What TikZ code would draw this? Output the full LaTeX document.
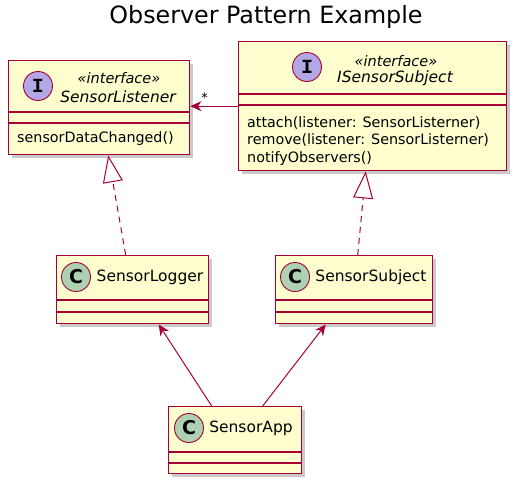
\documentclass[tikz,border=0pt]{standalone}
\usepackage{fontspec}
\setmainfont{DejaVu Sans}
\newfontfamily\spotmono{Liberation Mono}
\usetikzlibrary{arrows.meta,positioning,shadows,calc}
\definecolor{umlfill}{HTML}{FEFECE}
\definecolor{umlline}{HTML}{A80036}
\definecolor{ifacespot}{HTML}{B4A7E5}
\definecolor{classspot}{HTML}{ADD1B2}
\tikzset{
  classbox/.style={draw=umlline, fill=umlfill, line width=1.4pt, rectangle,
                   inner sep=0pt, anchor=north west,
                   drop shadow={shadow xshift=3.5pt, shadow yshift=-3.5pt, fill=black!35, opacity=0.6}},
  sep/.style={draw=umlline, line width=1.4pt},
  spot/.style={draw=umlline, circle, line width=0.9pt, minimum size=29pt, inner sep=0pt},
  tagtext/.style={font=\fontsize{14.5}{16}\selectfont\itshape, inner sep=0pt},
  nametext/.style={font=\fontsize{15.5}{18}\selectfont, inner sep=0pt},
  ifacename/.style={font=\fontsize{15.5}{18}\selectfont\itshape, inner sep=0pt},
  optext/.style={font=\fontsize{14.3}{17.5}\selectfont, inner sep=0pt, align=left},
  assoc/.style={draw=umlline, line width=1pt, -{Stealth[length=11pt, width=10pt, inset=3.5pt]}},
  realize/.style={draw=umlline, line width=1pt, dash pattern=on 6pt off 5pt,
                  -{Triangle[open, fill=white, length=27pt, width=20pt]}},
}
\newcommand{\spotI}{\spotmono\bfseries\fontsize{20}{20}\selectfont I}
\newcommand{\spotC}{\bfseries\fontsize{19}{19}\selectfont C}

\begin{document}
\begin{tikzpicture}[x=1pt, y=-1pt]
  \useasboundingbox (0,0) rectangle (519,487);
  \node[font=\fontsize{23.8}{28}\selectfont] (title) at (266,17) {Observer Pattern Example};

  \node[classbox, minimum width=181pt, minimum height=94pt] (lst) at (8,60) {};
  \draw[sep] ([yshift=-52pt]lst.north west) -- ([yshift=-52pt]lst.north east);
  \draw[sep] ([yshift=-63pt]lst.north west) -- ([yshift=-63pt]lst.north east);
  \node[spot, fill=ifacespot] (lstspot) at (38,86) {\spotI};
  \node[tagtext] (lsttag) at (119,78) {«interface»};
  \node[ifacename] (lstname) at (118,97) {SensorListener};
  \node[optext, anchor=west] (lstops) at (17,139) {sensorDataChanged()};

  \node[classbox, minimum width=268pt, minimum height=129pt] (iss) at (238,41) {};
  \draw[sep] ([yshift=-53pt]iss.north west) -- ([yshift=-53pt]iss.north east);
  \draw[sep] ([yshift=-64pt]iss.north west) -- ([yshift=-64pt]iss.north east);
  \node[spot, fill=ifacespot] (issspot) at (307,67) {\spotI};
  \node[tagtext] (isstag) at (396,61) {«interface»};
  \node[ifacename] (issname) at (395,78) {ISensorSubject};
  \node[optext, anchor=north west] (issops) at (247,116)
    {attach(listener: SensorListerner)\\ remove(listener: SensorListerner)\\ notifyObservers()};

  \node[classbox, minimum width=152pt, minimum height=68pt] (lg) at (56,255) {};
  \draw[sep] ([yshift=-45pt]lg.north west) -- ([yshift=-45pt]lg.north east);
  \draw[sep] ([yshift=-57pt]lg.north west) -- ([yshift=-57pt]lg.north east);
  \node[spot, fill=classspot] (lgspot) at (76,277) {\spotC};
  \node[nametext] (lgname) at (150,277) {SensorLogger};

  \node[classbox, minimum width=157pt, minimum height=68pt] (sub) at (275,255) {};
  \draw[sep] ([yshift=-45pt]sub.north west) -- ([yshift=-45pt]sub.north east);
  \draw[sep] ([yshift=-57pt]sub.north west) -- ([yshift=-57pt]sub.north east);
  \node[spot, fill=classspot] (subspot) at (295,277) {\spotC};
  \node[nametext] (subname) at (371,277) {SensorSubject};

  \node[classbox, minimum width=133pt, minimum height=67pt] (app) at (168,406) {};
  \draw[sep] ([yshift=-46pt]app.north west) -- ([yshift=-46pt]app.north east);
  \draw[sep] ([yshift=-57pt]app.north west) -- ([yshift=-57pt]app.north east);
  \node[spot, fill=classspot] (appspot) at (189,428) {\spotC};
  \node[nametext] (appname) at (251,428) {SensorApp};

  \draw[assoc] (iss.west) -- (iss.west -| lst.east)
    node[pos=0.7, above, font=\fontsize{13}{14}\selectfont] (mult) {*};
  \draw[realize] ([xshift=-7pt]lg.north) -- ([xshift=9pt]lst.south);
  \draw[realize] ([xshift=3.5pt]sub.north) -- ([xshift=-7pt]iss.south);
  \draw[assoc] ([xshift=-23.5pt]app.north) -- ([xshift=26pt]lg.south);
  \draw[assoc] ([xshift=27.5pt]app.north) -- ([xshift=-28.5pt]sub.south);
\end{tikzpicture}
\end{document}
